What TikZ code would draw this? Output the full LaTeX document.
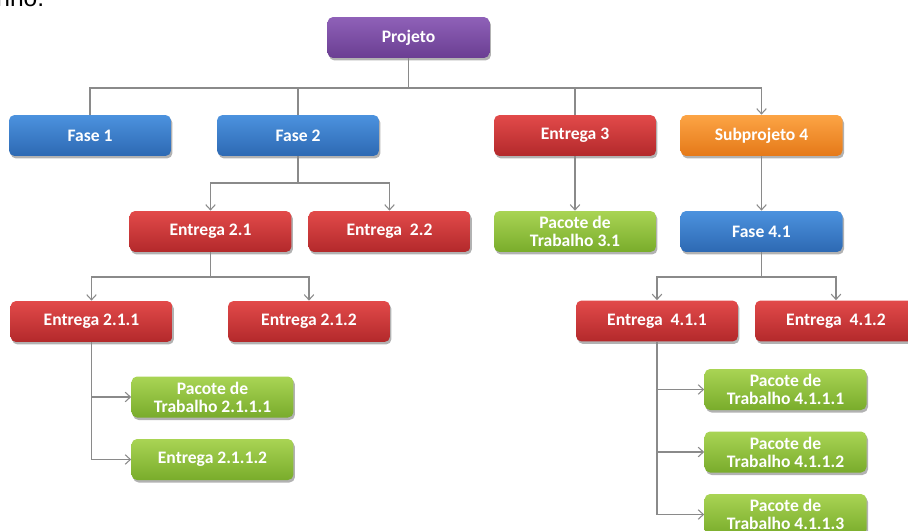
\documentclass[tikz,border=0pt]{standalone}
\usepackage{fontspec}
\setmainfont{Carlito}
\newfontfamily\arialfont{Liberation Sans}
\usetikzlibrary{arrows.meta,shadows}
\definecolor{purT}{HTML}{8F61B8}
\definecolor{purB}{HTML}{6A3E92}
\definecolor{bluT}{HTML}{4C92DE}
\definecolor{bluB}{HTML}{2D69B3}
\definecolor{redT}{HTML}{E24A4A}
\definecolor{redB}{HTML}{B3292B}
\definecolor{oraT}{HTML}{FCA445}
\definecolor{oraB}{HTML}{E57918}
\definecolor{grnT}{HTML}{A9D454}
\definecolor{grnB}{HTML}{79AC2B}
\definecolor{lineG}{HTML}{8A8A8A}
\tikzset{
  wbs/.style={rounded corners=0.11cm, minimum width=3.24cm, minimum height=0.82cm,
    inner sep=1pt, align=center, text=white,
    font=\fontsize{10}{10.2}\selectfont\bfseries,
    drop shadow={shadow xshift=0.03cm, shadow yshift=-0.05cm, opacity=0.3, fill=black}},
  purbox/.style={wbs, top color=purT, bottom color=purB},
  blubox/.style={wbs, top color=bluT, bottom color=bluB},
  redbox/.style={wbs, top color=redT, bottom color=redB},
  orabox/.style={wbs, top color=oraT, bottom color=oraB},
  grnbox/.style={wbs, top color=grnT, bottom color=grnB},
  conn/.style={draw=lineG, line width=0.6pt},
  arr/.style={conn, -{Straight Barb[length=3pt,width=5.5pt]}}
}
\begin{document}
\begin{tikzpicture}[x=0.02cm,y=-0.02cm]
\useasboundingbox (0,0) rectangle (908,530);
\fill[white] (0,0) rectangle (908,530);
\node[anchor=base west, inner sep=0, font=\arialfont\fontsize{14}{14}\selectfont] (frag) at (-4,7) {nho.};

\node[purbox] (proj) at (408.5,37.5) {Projeto};
\node[blubox] (f1) at (90,135.5) {Fase 1};
\node[blubox] (f2) at (298,135.5) {Fase 2};
\node[redbox] (e3) at (575,135.5) {Entrega 3};
\node[orabox] (s4) at (761.5,135.5) {Subprojeto 4};

\node[redbox] (e21) at (210.5,231.5) {Entrega 2.1};
\node[redbox] (e22) at (389.5,231.5) {Entrega\ \ 2.2};
\node[grnbox] (p31) at (575,231.5) {Pacote de\\Trabalho 3.1};
\node[blubox] (f41) at (761.5,231.5) {Fase 4.1};

\node[redbox] (e211) at (91.5,321.5) {Entrega 2.1.1};
\node[redbox] (e212) at (309,321.5) {Entrega 2.1.2};
\node[redbox] (e411) at (657,321) {Entrega\ \ 4.1.1};
\node[redbox] (e412) at (836,321) {Entrega\ \ 4.1.2};

\node[grnbox] (p2111) at (212.5,397) {Pacote de\\Trabalho 2.1.1.1};
\node[grnbox] (e2112) at (212.5,459.5) {Entrega 2.1.1.2};

\node[grnbox] (p4111) at (785.5,389.5) {Pacote de\\Trabalho 4.1.1.1};
\node[grnbox] (p4112) at (785.5,452) {Pacote de\\Trabalho 4.1.1.2};
\node[grnbox] (p4113) at (785.5,514.5) {Pacote de\\Trabalho 4.1.1.3};

% level 1 bus
\coordinate (b0) at (408.5,88);
\draw[conn] (proj.south) -- (b0);
\draw[conn] (b0) -| (f1.north);
\draw[conn] (b0) -| (f2.north);
\draw[conn] (b0) -| (e3.north);
\draw[arr] (b0) -| (s4.north);

% Fase 2
\coordinate (b2) at (298,183);
\draw[conn] (f2.south) -- (b2);
\draw[arr] (b2) -| (e21.north);
\draw[arr] (b2) -| (e22.north);

% Entrega 2.1
\coordinate (b21) at (210.5,277);
\draw[conn] (e21.south) -- (b21);
\draw[arr] (b21) -| (e211.north);
\draw[arr] (b21) -| (e212.north);

% Entrega 2.1.1
\draw[arr] (e211.south) |- (p2111.west);
\draw[arr] (e211.south) |- (e2112.west);

% Entrega 3, Subprojeto 4
\draw[arr] (e3.south) -- (p31.north);
\draw[arr] (s4.south) -- (f41.north);

% Fase 4.1
\coordinate (b41) at (761.5,277);
\draw[conn] (f41.south) -- (b41);
\draw[arr] (b41) -| (e411.north);
\draw[arr] (b41) -| (e412.north);

% Entrega 4.1.1
\draw[arr] (e411.south) |- (p4111.west);
\draw[arr] (e411.south) |- (p4112.west);
\draw[arr] (e411.south) |- (p4113.west);
\end{tikzpicture}
\end{document}
